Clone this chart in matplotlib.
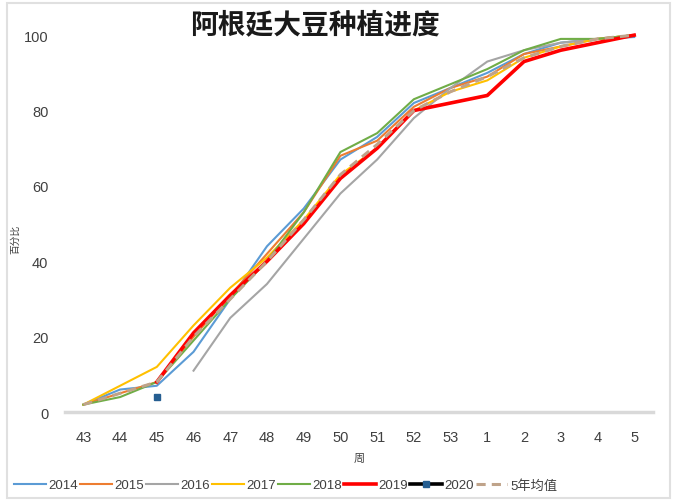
import matplotlib.pyplot as plt
import matplotlib.patches as mpatches
import numpy as np

plt.rcParams['font.family'] = ['Liberation Sans', 'Noto Sans CJK SC', 'DejaVu Sans']

weeks = ['43', '44', '45', '46', '47', '48', '49', '50', '51', '52', '53', '1', '2', '3', '4', '5']

# planting progress (%), NaN where a year has no value
nan = np.nan
y2014 = [2, 6, 7, 16, 30, 44, 54, 67, 73, 82, 86, 90, 95, 98, 99, 99.5]
y2015 = [2, 5, 8, 20, 31, 42, 53, 68, 72, 81, 86, 89, 95, 97, 99, 100]
y2016 = [nan, nan, nan, 11, 25, 34, 46, 58, 67, 78, 86, 93, 96, 98, 99, 100]
y2017 = [2, 7, 12, 23, 33, 41, 51, 63, 70, 80, 85, 88, 94, 97, 99, 100]
y2018 = [2, 4, 8, 19, 30, 40, 53, 69, 74, 83, 87, 91, 96, 99, 99, 100]
y2019 = [nan, nan, 8, 21, 31, 40, 50, 62, 70, 80, 82, 84, 93, 96, 98, 100]
y2020 = [nan, nan, 4, nan, nan, nan, nan, nan, nan, nan, nan, nan, nan, nan, nan, nan]
avg5 = [2, 5, 8, 20, 30, 40, 51, 63, 71, 80, 85, 89, 94, 97, 99, 100]

x = np.arange(len(weeks))

fig = plt.figure(figsize=(6.73, 5.02), dpi=100)
ax = fig.add_axes([0.0966, 0.177, 0.873, 0.751])

ax.plot(x, y2014, color='#5B9BD5', lw=1.5, label='2014', clip_on=False)
ax.plot(x, y2015, color='#ED7D31', lw=1.5, label='2015', clip_on=False)
ax.plot(x, y2016, color='#A5A5A5', lw=1.5, label='2016', clip_on=False)
ax.plot(x, y2017, color='#FFC000', lw=1.5, label='2017', clip_on=False)
ax.plot(x, y2018, color='#70AD47', lw=1.5, label='2018', clip_on=False)
ax.plot(x, y2019, color='#FF0000', lw=2.6, label='2019', clip_on=False)
ax.plot(x, y2020, color='black', lw=2.6, marker='s', ms=5,
        mfc='#255E91', mec='#255E91', label='2020', clip_on=False)
ax.plot(x, avg5, color='#BFA38A', lw=2.2, ls=(0, (3, 2)), label='5年均值', clip_on=False)

ax.set_xlim(-0.5, len(weeks) - 0.5)
ax.set_ylim(0, 100)
ax.set_xticks(x)
ax.set_xticklabels(weeks)
ax.set_yticks(range(0, 101, 20))
ax.tick_params(axis='both', length=0, labelsize=10.5, colors='#404040')
ax.tick_params(axis='x', pad=13)
ax.tick_params(axis='y', pad=12)

for s in ['top', 'right', 'left']:
    ax.spines[s].set_visible(False)
ax.spines['bottom'].set_color('#D9D9D9')
ax.spines['bottom'].set_linewidth(2.5)

ax.set_xlabel('周', fontsize=8, color='#404040', labelpad=6)
ax.set_ylabel('百分比', fontsize=7, color='#404040')
ax.yaxis.set_label_coords(-0.077, 0.46)

fig.text(0.468, 0.95, '阿根廷大豆种植进度', ha='center', va='center',
         fontsize=20, fontweight='bold', family=['Noto Sans CJK SC'], color='#1a1a1a')

ax.legend(loc='upper left', bbox_to_anchor=(-0.095, -0.163), ncol=8, frameon=False,
          fontsize=9.5, handlelength=2.4, handletextpad=0.2, columnspacing=0.15,
          borderaxespad=0, labelcolor='#404040')

# light frame around the chart area
fig.patches.append(mpatches.Rectangle((0.01, 0.005), 0.985, 0.988, transform=fig.transFigure,
                                      fill=False, edgecolor='#E0E0E0', lw=1.5))

fig.savefig('out.png', dpi=100)
